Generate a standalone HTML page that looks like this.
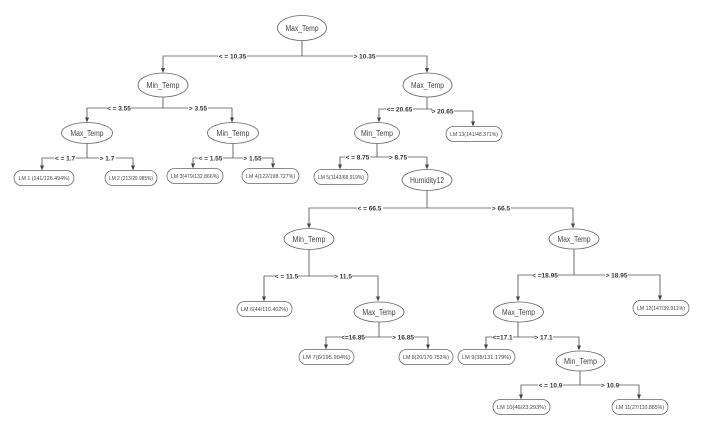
<!DOCTYPE html>
<html><head><meta charset="utf-8"><style>
html,body{margin:0;padding:0;background:#fff;}
svg{display:block;}
.e{fill:#fff;stroke:#666;stroke-width:0.8;}
.l{fill:#fff;stroke:#666;stroke-width:0.75;}
.c{fill:none;stroke:#555;stroke-width:0.85;}
.n{font-family:"Liberation Sans",sans-serif;font-size:8px;fill:#444;text-anchor:middle;}
.f{font-family:"Liberation Sans",sans-serif;font-size:5.4px;fill:#444;text-anchor:middle;}
.t{font-family:"Liberation Sans",sans-serif;font-size:6.5px;font-weight:bold;fill:#333;text-anchor:middle;}
</style></head><body>
<svg width="702" height="434" viewBox="0 0 702 434" xmlns="http://www.w3.org/2000/svg">
<!-- connectors -->
<g class="c">
<path d="M302,41V56M302,56H163V69M302,56H427V69"/>
<path d="M163,97V108H87V118.5M163,108H232V118.5"/>
<path d="M427,97V109H379V118.5M427,109H432V111H473V122.5"/>
<path d="M87,143.5V158H42V166.5M87,158H133V166.5"/>
<path d="M233,143.5V158H193V164.5M233,158H273V164.5"/>
<path d="M377,143.5V157H340V165.5M377,157H427V165.5"/>
<path d="M427,190.5V208H309V224.5M427,208H573V224.5"/>
<path d="M309,249.5V276H264V297.5M309,276H378V297.5"/>
<path d="M574,249V275H518V297.5M574,275H660V296.5"/>
<path d="M379,322V337H326V345.5M379,337H428V345.5"/>
<path d="M518,322V337H486V345.5M518,337H579V346.5"/>
<path d="M580,371V385H521V395.5M580,385H639V395.5"/>
</g>
<!-- arrowheads -->
<g fill="#444">
<polygon points="161,68 165,68 163,73"/><polygon points="425,68 429,68 427,73"/>
<polygon points="85,117.5 89,117.5 87,122.5"/><polygon points="230,117.5 234,117.5 232,122.5"/>
<polygon points="377,117.5 381,117.5 379,122.5"/><polygon points="471,121.5 475,121.5 473,126.5"/>
<polygon points="40,165.5 44,165.5 42,170.5"/><polygon points="131,165.5 135,165.5 133,170.5"/>
<polygon points="191,163.5 195,163.5 193,168.5"/><polygon points="271,163.5 275,163.5 273,168.5"/>
<polygon points="338,164.5 342,164.5 340,169.5"/><polygon points="425,164.5 429,164.5 427,169.5"/>
<polygon points="307,223.5 311,223.5 309,228.5"/><polygon points="571,223.5 575,223.5 573,228.5"/>
<polygon points="262,296.5 266,296.5 264,301.5"/><polygon points="376,296.5 380,296.5 378,301.5"/>
<polygon points="516,296.5 520,296.5 518,301.5"/><polygon points="658,295.5 662,295.5 660,300.5"/>
<polygon points="324,344.5 328,344.5 326,349.5"/><polygon points="426,344.5 430,344.5 428,349.5"/>
<polygon points="484,344.5 488,344.5 486,349.5"/><polygon points="577,345.5 581,345.5 579,350.5"/>
<polygon points="519,394.5 523,394.5 521,399.5"/><polygon points="637,394.5 641,394.5 639,399.5"/>
</g>
<!-- edge labels -->
<g>
<rect x="218" y="52" width="29" height="8" fill="#fff"/><text class="t" x="232.5" y="58.3">&lt; = 10.35</text>
<rect x="353" y="52" width="23" height="8" fill="#fff"/><text class="t" x="364.5" y="58.3">&gt; 10.35</text>
<rect x="107" y="104" width="24" height="8" fill="#fff"/><text class="t" x="119" y="110.3">&lt; = 3.55</text>
<rect x="188" y="104" width="20" height="8" fill="#fff"/><text class="t" x="198" y="110.3">&gt; 3.55</text>
<rect x="54" y="154" width="22" height="8" fill="#fff"/><text class="t" x="65" y="160.3">&lt; = 1.7</text>
<rect x="99" y="154" width="17" height="8" fill="#fff"/><text class="t" x="107" y="160.3">&gt; 1.7</text>
<rect x="198" y="154" width="25" height="8" fill="#fff"/><text class="t" x="210.5" y="160.3">&lt; = 1.55</text>
<rect x="243" y="154" width="19" height="8" fill="#fff"/><text class="t" x="252.5" y="160.3">&gt; 1.55</text>
<rect x="386" y="105" width="27" height="8" fill="#fff"/><text class="t" x="399.5" y="111.3">&lt;= 20.65</text>
<rect x="432" y="107" width="22" height="8" fill="#fff"/><text class="t" x="442.5" y="113.3">&gt; 20.65</text>
<rect x="345" y="153" width="25" height="8" fill="#fff"/><text class="t" x="357.5" y="159.3">&lt; = 8.75</text>
<rect x="389" y="153" width="19" height="8" fill="#fff"/><text class="t" x="398" y="159.3">&gt; 8.75</text>
<rect x="357" y="204" width="26" height="8" fill="#fff"/><text class="t" x="369.5" y="210.3">&lt; = 66.5</text>
<rect x="491" y="204" width="20" height="8" fill="#fff"/><text class="t" x="501" y="210.3">&gt; 66.5</text>
<rect x="275" y="272" width="23" height="8" fill="#fff"/><text class="t" x="286.5" y="278.3">&lt; = 11.5</text>
<rect x="334" y="272" width="18" height="8" fill="#fff"/><text class="t" x="343" y="278.3">&gt; 11.5</text>
<rect x="532" y="271" width="26" height="8" fill="#fff"/><text class="t" x="545" y="277.3">&lt; =18.95</text>
<rect x="605" y="271" width="23" height="8" fill="#fff"/><text class="t" x="616.5" y="277.3">&gt; 18.95</text>
<rect x="341" y="333" width="24" height="8" fill="#fff"/><text class="t" x="353" y="339.3">&lt;=16.85</text>
<rect x="392" y="333" width="22" height="8" fill="#fff"/><text class="t" x="403" y="339.3">&gt; 16.85</text>
<rect x="492" y="333" width="21" height="8" fill="#fff"/><text class="t" x="502.5" y="339.3">&lt;=17.1</text>
<rect x="535" y="333" width="18" height="8" fill="#fff"/><text class="t" x="543.5" y="339.3">&gt; 17.1</text>
<rect x="538" y="381" width="25" height="8" fill="#fff"/><text class="t" x="550.5" y="387.3">&lt; = 10.9</text>
<rect x="601" y="381" width="18" height="8" fill="#fff"/><text class="t" x="610" y="387.3">&gt; 10.9</text>
</g>
<!-- split nodes -->
<g>
<ellipse class="e" cx="302" cy="28" rx="24.5" ry="12.5"/><text class="n" x="302" y="30.8" textLength="33" lengthAdjust="spacingAndGlyphs">Max_Temp</text>
<ellipse class="e" cx="163" cy="85" rx="25" ry="12"/><text class="n" x="163" y="87.8" textLength="33" lengthAdjust="spacingAndGlyphs">Min_Temp</text>
<ellipse class="e" cx="427.5" cy="85" rx="24.5" ry="12"/><text class="n" x="427.5" y="87.8" textLength="33" lengthAdjust="spacingAndGlyphs">Max_Temp</text>
<ellipse class="e" cx="87" cy="133" rx="25.5" ry="10.5"/><text class="n" x="87" y="135.8" textLength="33" lengthAdjust="spacingAndGlyphs">Max_Temp</text>
<ellipse class="e" cx="233" cy="133" rx="25.5" ry="10.5"/><text class="n" x="233" y="135.8" textLength="33" lengthAdjust="spacingAndGlyphs">Min_Temp</text>
<ellipse class="e" cx="377" cy="133" rx="22.5" ry="10.5"/><text class="n" x="377" y="135.8" textLength="32" lengthAdjust="spacingAndGlyphs">Min_Temp</text>
<ellipse class="e" cx="427" cy="180" rx="25" ry="10.5"/><text class="n" x="427" y="182.8" textLength="34" lengthAdjust="spacingAndGlyphs">Humidity12</text>
<ellipse class="e" cx="309" cy="239" rx="25" ry="10.5"/><text class="n" x="309" y="241.8" textLength="33" lengthAdjust="spacingAndGlyphs">Min_Temp</text>
<ellipse class="e" cx="574" cy="239" rx="25" ry="10"/><text class="n" x="574" y="241.8" textLength="33" lengthAdjust="spacingAndGlyphs">Max_Temp</text>
<ellipse class="e" cx="379" cy="312" rx="25" ry="10"/><text class="n" x="379" y="314.8" textLength="33" lengthAdjust="spacingAndGlyphs">Max_Temp</text>
<ellipse class="e" cx="518.5" cy="312" rx="25" ry="10"/><text class="n" x="518.5" y="314.8" textLength="33" lengthAdjust="spacingAndGlyphs">Max_Temp</text>
<ellipse class="e" cx="580.5" cy="361" rx="24.5" ry="10"/><text class="n" x="580.5" y="363.8" textLength="33" lengthAdjust="spacingAndGlyphs">Min_Temp</text>
</g>
<!-- leaves -->
<g>
<rect class="l" x="14" y="170.5" width="60" height="15" rx="7.5"/><text class="f" x="44" y="180" textLength="51" lengthAdjust="spacingAndGlyphs">LM 1 (141/126.494%)</text>
<rect class="l" x="105" y="170.5" width="52" height="15" rx="7.5"/><text class="f" x="131" y="180" textLength="44" lengthAdjust="spacingAndGlyphs">LM 2 (213/29.985%)</text>
<rect class="l" x="167" y="168.5" width="56" height="15" rx="7.5"/><text class="f" x="195" y="178" textLength="48" lengthAdjust="spacingAndGlyphs">LM 3(479/132.866%)</text>
<rect class="l" x="242" y="168.5" width="57" height="15" rx="7.5"/><text class="f" x="270.5" y="178" textLength="49" lengthAdjust="spacingAndGlyphs">LM 4(122/198.727%)</text>
<rect class="l" x="446" y="126.5" width="56" height="15" rx="7.5"/><text class="f" x="474" y="136" textLength="48" lengthAdjust="spacingAndGlyphs">LM 13(141/48.371%)</text>
<rect class="l" x="314" y="169.5" width="54" height="15" rx="7.5"/><text class="f" x="341" y="179" textLength="46" lengthAdjust="spacingAndGlyphs">LM 5(1143/68.919%)</text>
<rect class="l" x="237" y="301.5" width="55" height="15" rx="7.5"/><text class="f" x="264.5" y="311" textLength="47" lengthAdjust="spacingAndGlyphs">LM 6(44/110.402%)</text>
<rect class="l" x="633" y="300.5" width="56" height="15" rx="7.5"/><text class="f" x="661" y="310" textLength="48" lengthAdjust="spacingAndGlyphs">LM 12(147/39.911%)</text>
<rect class="l" x="299" y="349.5" width="55" height="15" rx="7.5"/><text class="f" x="326.5" y="359" textLength="47" lengthAdjust="spacingAndGlyphs">LM 7(6/195.994%)</text>
<rect class="l" x="399" y="349.5" width="54" height="15" rx="7.5"/><text class="f" x="426" y="359" textLength="46" lengthAdjust="spacingAndGlyphs">LM 8(20/170.752%)</text>
<rect class="l" x="458" y="349.5" width="57" height="15" rx="7.5"/><text class="f" x="486.5" y="359" textLength="49" lengthAdjust="spacingAndGlyphs">LM 9(38/131.179%)</text>
<rect class="l" x="493" y="399.5" width="57" height="15" rx="7.5"/><text class="f" x="521.5" y="409" textLength="49" lengthAdjust="spacingAndGlyphs">LM 10(46/23.293%)</text>
<rect class="l" x="612" y="399.5" width="56" height="15" rx="7.5"/><text class="f" x="640" y="409" textLength="48" lengthAdjust="spacingAndGlyphs">LM 11(27/110.885%)</text>
</g>
</svg>
</body></html>
